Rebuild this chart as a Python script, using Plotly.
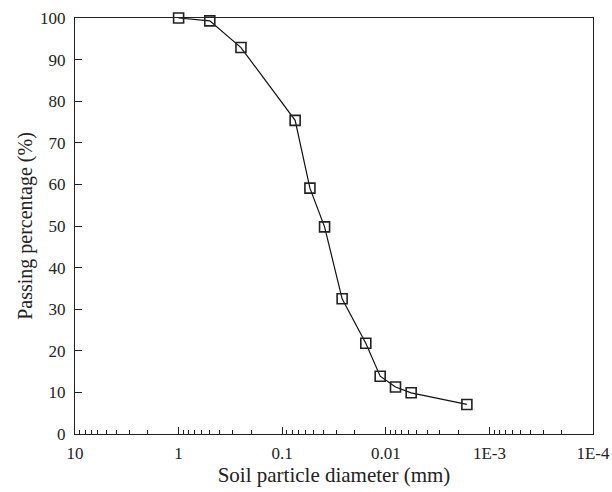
import plotly.graph_objects as go

diameter_mm = [1.0, 0.5, 0.25, 0.075, 0.054, 0.039, 0.0264, 0.0156, 0.01133, 0.00806, 0.00569, 0.00165]
passing_pct = [100.0, 99.3, 92.9, 75.4, 59.1, 49.8, 32.5, 21.8, 13.9, 11.3, 9.9, 7.1]

x_tick_vals = [10, 1, 0.1, 0.01, 0.001, 0.0001]
x_tick_text = ["10", "1", "0.1", "0.01", "1E-3", "1E-4"]
y_tick_vals = [0, 10, 20, 30, 40, 50, 60, 70, 80, 90, 100]

minor_vals = [m * 10.0 ** e for e in range(-4, 1) for m in range(2, 10)]

font_family = "Liberation Serif, Times New Roman, serif"

fig = go.Figure()
fig.add_trace(go.Scatter(
    x=diameter_mm, y=passing_pct, mode="lines+markers",
    line=dict(color="#111111", width=1.2),
    marker=dict(symbol="square-open", size=10, color="#222222", line=dict(width=1.6, color="#222222")),
    cliponaxis=False, showlegend=False,
))

fig.update_layout(
    width=612, height=492,
    margin=dict(l=75, r=19, t=18, b=58),
    paper_bgcolor="white", plot_bgcolor="white",
    font=dict(family=font_family, size=17, color="#222222"),
)
fig.update_xaxes(
    type="log", range=[1, -4], autorange=False, automargin=False,
    tickmode="array", tickvals=x_tick_vals, ticktext=x_tick_text,
    ticks="inside", ticklen=7, tickwidth=1, tickcolor="#222222",
    ticklabelstandoff=3,
    minor=dict(tickmode="array", tickvals=minor_vals, ticks="inside", ticklen=4, tickwidth=1, tickcolor="#222222"),
    showline=True, linecolor="#222222", linewidth=1.2, mirror=True,
    showgrid=False, zeroline=False,
    title=dict(text="Soil particle diameter (mm)", standoff=5, font=dict(size=21)),
    tickfont=dict(size=17),
)
fig.update_yaxes(
    range=[0, 100], autorange=False, automargin=False,
    tickmode="array", tickvals=y_tick_vals,
    ticks="inside", ticklen=7, tickwidth=1, tickcolor="#222222",
    ticklabelstandoff=5,
    showline=True, linecolor="#222222", linewidth=1.2, mirror=True,
    showgrid=False, zeroline=False,
    title=dict(text="Passing percentage (%)", standoff=2, font=dict(size=20)),
    tickfont=dict(size=17),
)

fig.write_html(
    "out.html",
    config={"displayModeBar": False},
    post_script="document.body.style.margin='0';document.body.style.overflow='hidden';",
)
